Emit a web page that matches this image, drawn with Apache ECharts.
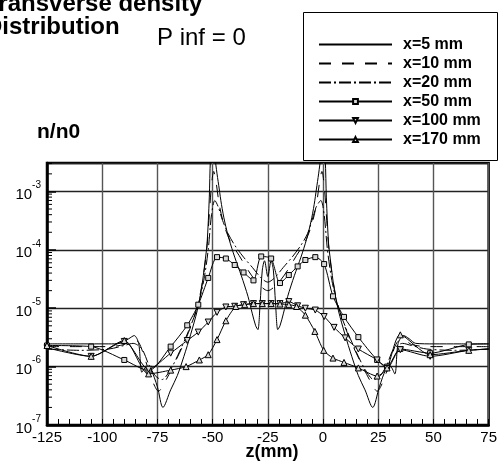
<!DOCTYPE html>
<html><head><meta charset="utf-8">
<script src="https://cdn.jsdelivr.net/npm/echarts@6/dist/echarts.min.js"></script>
<style>html,body{margin:0;padding:0;background:#fff}#c{width:500px;height:461px}</style>
</head><body><div id="c"></div>
<script>
const FONT = '"Liberation Sans", Arial, sans-serif';
const seriesNames = ['x=5 mm','x=10 mm','x=20 mm','x=50 mm','x=100 mm','x=170 mm'];
const xMin = -125, xMax = 75, xStep = 25;
const yMin = 1e-7, yMax = 3.07e-3;

// x=5 mm (solid, no markers)
const z5 = [-125,-110,-97,-92,-88,-85.5,-83.5,-82,-80,-78,-75,-72.5,-69,-66,-63,-60,-57,-55,-53.5,-52.5,-51.5,-51,-50,-49,-48,-47,-46,-44.5,-42.5,-40,-37,-34,-32,-30.5,-29.5,-28.5,-27.5,-26.5,-25,-23.5,-22.5,-21.5,-20.5,-19.5,-18,-16,-13,-10,-7.5,-5.5,-4,-3,-2,-1,0,1,1.5,2.5,3.5,5,7,10,13,16,19,22.5,25.5,28.5,30.5,32.5,34,36.5,39,42,50,62,75];
const n5 = [2.45e-6,2.45e-6,2.45e-6,2.5e-6,3.0e-6,3.4e-6,2.5e-6,8e-7,1.0e-6,9e-7,4.5e-7,2e-7,4e-7,7e-7,1.5e-6,3.5e-6,9e-6,2.2e-5,6e-5,1.3e-4,8e-4,3.5e-3,1e-2,4e-3,2e-3,1.1e-3,6e-4,3e-4,1.5e-4,7.5e-5,3.6e-5,1.6e-5,8e-6,5e-6,4.3e-6,1.2e-5,4.5e-5,6.5e-5,3.5e-5,6.5e-5,4.5e-5,1.2e-5,4.3e-6,5e-6,8e-6,1.6e-5,3.6e-5,7.5e-5,1.5e-4,3e-4,6e-4,1.1e-3,2e-3,4e-3,1e-2,3.5e-3,8e-4,1.3e-4,6e-5,2.2e-5,9e-6,3.5e-6,1.5e-6,7e-7,4e-7,2e-7,4.5e-7,9e-7,1.0e-6,7.5e-7,2.5e-6,3.4e-6,3.0e-6,2.5e-6,2.45e-6,2.45e-6,2.45e-6];

// x=10 mm (dashed)
const z10 = [-125,-110,-97,-90,-86.5,-83.5,-80.5,-77.5,-74.5,-71,-67,-63,-59,-56,-54,-52.5,-51.5,-50.5,-49.5,-48.5,-47,-45,-42,-38,-34,-30,-25,-20,-16,-12,-8,-5,-3,-1.5,-0.5,0.5,1.5,2.5,4,6,9,13,17,21,24.5,27.5,30.5,33.5,36.5,40,47,60,75];
const n10 = [2.2e-6,2.2e-6,2.2e-6,2.4e-6,2.9e-6,2.6e-6,1.3e-6,6e-7,3.8e-7,6e-7,1.2e-6,2.5e-6,6e-6,1.5e-5,4e-5,1.2e-4,4e-4,1.3e-3,2.2e-3,1.5e-3,6e-4,2.8e-4,1.4e-4,8e-5,4.5e-5,2.8e-5,2e-5,2.8e-5,4.5e-5,8e-5,1.4e-4,2.8e-4,6e-4,1.5e-3,2.2e-3,1.3e-3,4e-4,1.2e-4,4e-5,1.5e-5,6e-6,2.5e-6,1.2e-6,6e-7,3.8e-7,6e-7,1.3e-6,2.6e-6,2.9e-6,2.4e-6,2.2e-6,2.2e-6,2.2e-6];

// x=20 mm (dash-dot)
const z20 = [-125,-110,-97,-90,-86,-82,-79,-76,-73,-69,-65,-61,-57,-54,-52,-50.5,-49,-47.5,-45.5,-43,-40,-36,-32,-28,-25,-22,-18,-14,-10,-7,-5,-3,-1,0.5,2,4,7,11,15,19,23,26,29,32,36,40,47,60,75];
const n20 = [2.0e-6,1.9e-6,2.0e-6,2.3e-6,2.5e-6,2.0e-6,1.1e-6,7e-7,6e-7,9e-7,1.8e-6,4e-6,1e-5,3e-5,1e-4,4e-4,7e-4,5.5e-4,3.2e-4,1.9e-4,1.2e-4,7.5e-5,5e-5,3.3e-5,2.8e-5,3.3e-5,5e-5,7.5e-5,1.2e-4,1.9e-4,3.2e-4,5.5e-4,7e-4,4e-4,1e-4,3e-5,1e-5,4e-6,1.8e-6,9e-7,6e-7,7e-7,1.1e-6,2.0e-6,2.5e-6,2.3e-6,2.0e-6,1.9e-6,2.0e-6];

// x=50 mm (squares)
const z50 = [-125,-105,-90,-79,-69,-61.5,-56.5,-52,-48,-44,-40,-36,-31.5,-28,-23.5,-19.5,-15.5,-11.5,-8,-3.5,0.5,4.5,9.5,16,24.5,29,35,48.5,66,75];
const n50 = [2.3e-6,2.2e-6,1.3e-6,8.5e-7,2.2e-6,5.1e-6,1.15e-5,3.3e-5,7.5e-5,7.1e-5,5.5e-5,4.1e-5,3.0e-5,7.7e-5,7.1e-5,2.7e-5,3.7e-5,5.2e-5,6.7e-5,7.5e-5,5.7e-5,1.6e-5,7.1e-6,3.2e-6,1.3e-6,1.0e-6,2.0e-6,1.7e-6,2.4e-6,2.45e-6];

// x=100 mm (down triangles)
const z100 = [-125,-105,-90,-79,-69,-61.5,-56.5,-52,-48,-44,-40,-36,-31.5,-27.5,-23.5,-19.5,-15.5,-11.5,-8,-3.5,0.5,5,10,16,24.5,29,35,48.5,66,75];
const n100 = [2.1e-6,1.5e-6,2.7e-6,9e-7,1.7e-6,2.8e-6,3.9e-6,5.8e-6,8.5e-6,1.05e-5,1.08e-5,1.15e-5,1.2e-5,1.2e-5,1.2e-5,1.2e-5,1.3e-5,1.1e-5,1.0e-5,9.3e-6,7.2e-6,4.7e-6,3.1e-6,2.0e-6,1.3e-6,9.3e-7,1.95e-6,1.5e-6,1.9e-6,2.0e-6];

// x=170 mm (up triangles)
const z170 = [-125,-105,-90,-79,-69,-62,-56,-52,-48,-44,-39.5,-35.5,-31.5,-27.5,-23.5,-19.5,-15.5,-12,-8,-3.7,0.3,4.5,9.5,16,24.5,29,35,48.5,66,75];
const n170 = [2.3e-6,1.5e-6,2.8e-6,7.5e-7,8.7e-7,1.0e-6,1.3e-6,1.6e-6,2.9e-6,6.1e-6,1.07e-5,1.15e-5,1.2e-5,1.2e-5,1.2e-5,1.18e-5,1.15e-5,1.07e-5,7.6e-6,4.0e-6,1.9e-6,1.4e-6,1.18e-6,9.5e-7,6.9e-7,9.5e-7,3.5e-6,1.6e-6,1.9e-6,2.0e-6];

// minor tick positions on the log axis
const yMinor = [];
for (let k = -7; k <= -3; k++) for (let m = 2; m <= 9; m++) { const v = m * Math.pow(10, k); if (v < yMax) yMinor.push(v); }

function pts(z, n) {
  return z.map((v, i) => v >= xMax ? { value: [v, n[i]], symbol: 'none' } : [v, n[i]]);
}

const lineBase = { type: 'line', clip: true, silent: true };
const markerItem = { color: '#d8d8d8', borderColor: '#000', borderWidth: 1 };
const noSym = { color: 'rgba(0,0,0,0)', borderColor: 'rgba(0,0,0,0)', borderWidth: 0, opacity: 0 };

const chart = echarts.init(document.getElementById('c'), null, { renderer: 'canvas' });
chart.setOption({
  animation: false,
  backgroundColor: '#fff',
  grid: { left: 47, right: 3, top: 163, bottom: 36, show: true, borderColor: '#000', borderWidth: 2.5, backgroundColor: 'transparent' },
  xAxis: {
    type: 'value', min: xMin, max: xMax, interval: xStep,
    axisLine: { onZero: false, lineStyle: { color: '#000', width: 2.5 } },
    axisTick: { show: true, inside: true, length: 6, lineStyle: { color: '#000' } },
    minorTick: { show: true, splitNumber: 5, length: 6, lineStyle: { color: '#000', width: 1 } },
    splitLine: { show: true, lineStyle: { color: '#555', width: 1.4 } },
    axisLabel: { color: '#000', fontSize: 15, fontFamily: FONT, margin: 5 }
  },
  yAxis: [{
    type: 'log', logBase: 10, min: yMin, max: yMax,
    axisLine: { onZero: false, lineStyle: { color: '#000', width: 2.5 } },
    axisTick: { show: true, inside: true, length: 9, lineStyle: { color: '#000', width: 1.5 } },
    splitLine: { show: true, lineStyle: { color: '#222', width: 1.3 } },
    axisLabel: {
      showMaxLabel: false, margin: 6,
      formatter: v => '{b|10}{s|' + Math.round(Math.log10(v)) + '}',
      rich: {
        b: { fontSize: 15, fontFamily: FONT, color: '#000', lineHeight: 22, verticalAlign: 'bottom' },
        s: { fontSize: 10, fontFamily: FONT, color: '#000', lineHeight: 10, verticalAlign: 'top' }
      }
    }
  }],
  legend: {
    orient: 'vertical', left: 318, top: 35, padding: 0, itemWidth: 73, itemHeight: 6, itemGap: 0,
    selectedMode: false,
    data: [
      { name: seriesNames[0], itemStyle: noSym },
      { name: seriesNames[1], itemStyle: noSym },
      { name: seriesNames[2], itemStyle: noSym },
      { name: seriesNames[3] },
      { name: seriesNames[4] },
      { name: seriesNames[5] }
    ],
    textStyle: { fontFamily: FONT, fontWeight: 'bold', fontSize: 16, color: '#000', lineHeight: 19, padding: [0, 0, 0, 6] }
  },
  graphic: [
    { type: 'rect', shape: { x: 303.5, y: 12.5, width: 194, height: 148 }, style: { fill: 'none', stroke: '#000', lineWidth: 1 } },
    { type: 'text', x: -15, y: 4.6, style: { text: 'Transverse density', font: 'bold 24px ' + FONT, fill: '#000', verticalAlign: 'middle' } },
    { type: 'text', x: -15, y: 27.6, style: { text: 'Distribution', font: 'bold 24px ' + FONT, fill: '#000', verticalAlign: 'middle' } },
    { type: 'text', x: 157, y: 38.5, style: { text: 'P inf = 0', font: '24px ' + FONT, fill: '#000', verticalAlign: 'middle' } },
    { type: 'text', x: 37, y: 132, style: { text: 'n/n0', font: 'bold 21px ' + FONT, fill: '#000', verticalAlign: 'middle' } },
    { type: 'text', x: 272, y: 452, style: { text: 'z(mm)', font: 'bold 18px ' + FONT, fill: '#000', align: 'center', verticalAlign: 'middle' } }
  ],
  series: [
    Object.assign({}, lineBase, { name: seriesNames[0], data: pts(z5, n5), symbol: 'none', smooth: 0.3, lineStyle: { color: '#000', width: 1, type: 'solid' }, itemStyle: { color: '#000' } }),
    Object.assign({}, lineBase, { name: seriesNames[1], data: pts(z10, n10), symbol: 'none', smooth: 0.3, lineStyle: { color: '#000', width: 1, type: [12, 11] }, itemStyle: { color: '#000' } }),
    Object.assign({}, lineBase, { name: seriesNames[2], data: pts(z20, n20), symbol: 'none', smooth: 0.3, lineStyle: { color: '#000', width: 1, type: [12, 3, 2, 3] }, itemStyle: { color: '#000' } }),
    Object.assign({}, lineBase, { name: seriesNames[3], data: pts(z50, n50), symbol: 'rect', symbolSize: 5, showAllSymbol: true, smooth: 0.25, lineStyle: { color: '#000', width: 1 }, itemStyle: markerItem }),
    Object.assign({}, lineBase, { name: seriesNames[4], data: pts(z100, n100), symbol: 'triangle', symbolRotate: 180, symbolSize: 6, showAllSymbol: true, smooth: 0.25, lineStyle: { color: '#000', width: 1 }, itemStyle: markerItem }),
    Object.assign({}, lineBase, { name: seriesNames[5], data: pts(z170, n170), symbol: 'triangle', symbolSize: 6, showAllSymbol: true, smooth: 0.25, lineStyle: { color: '#000', width: 1 }, itemStyle: markerItem }),
    {
      type: 'custom', silent: true, data: yMinor.map(v => [xMin, v]),
      renderItem: (params, api) => {
        const p = api.coord([api.value(0), api.value(1)]);
        return { type: 'line', shape: { x1: p[0], y1: p[1], x2: p[0] + 5, y2: p[1] }, style: { stroke: '#000', lineWidth: 1 } };
      }
    }
  ]
});
</script></body></html>
